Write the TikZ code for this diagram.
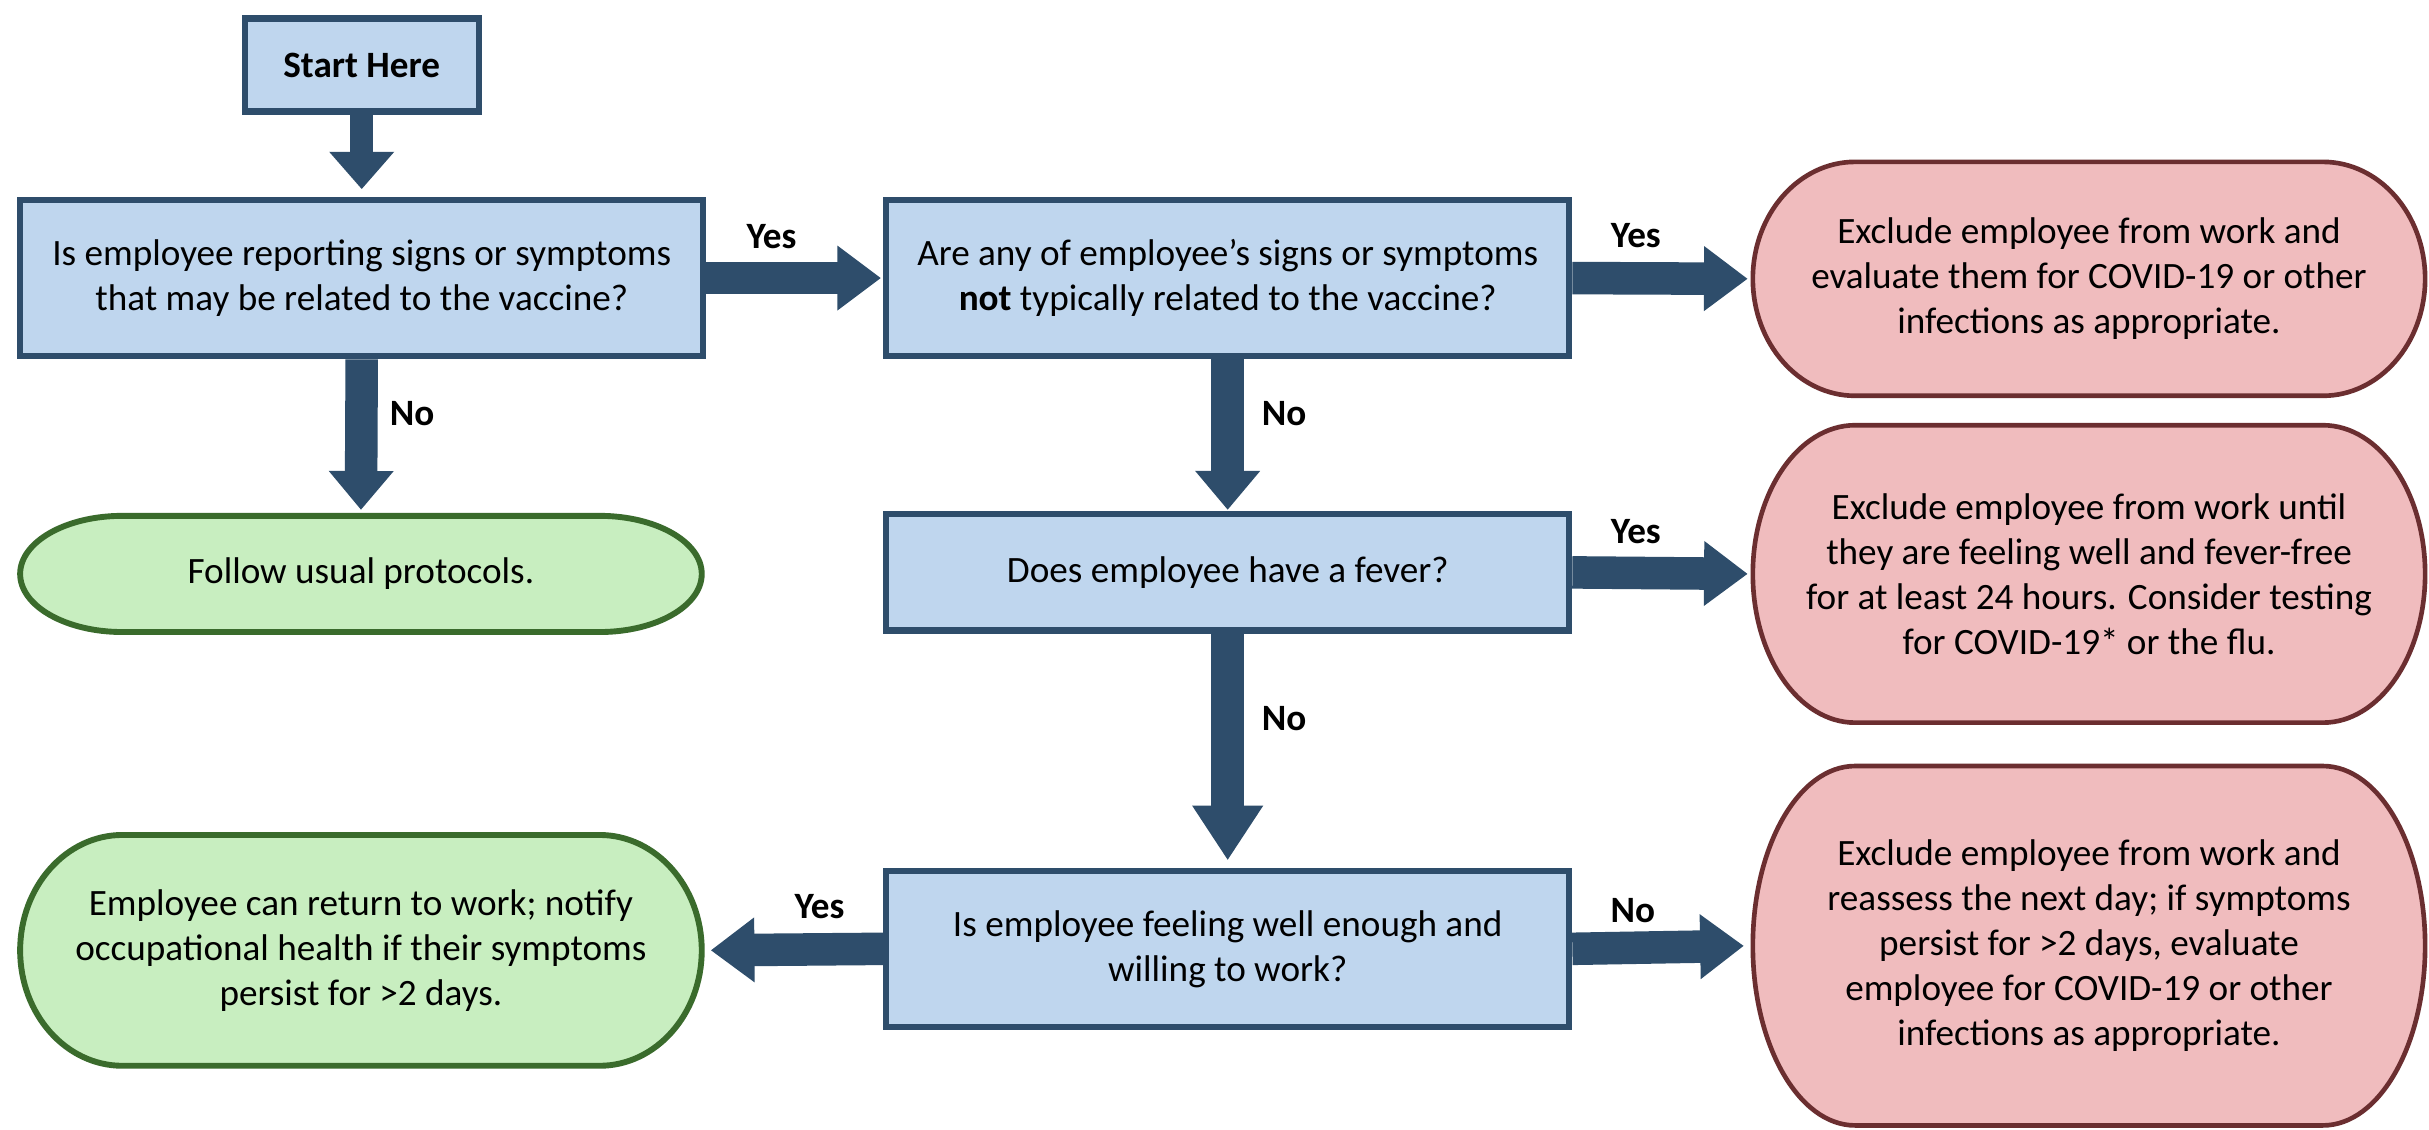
\documentclass[tikz,border=0pt]{standalone}
\usepackage{fontspec}
\setmainfont{Carlito}
\usetikzlibrary{arrows.meta,backgrounds}
\definecolor{boxfill}{HTML}{BFD6EE}
\definecolor{boxline}{HTML}{2E4D6B}
\definecolor{pinkfill}{HTML}{F0BCBE}
\definecolor{pinkline}{HTML}{6B2E30}
\definecolor{greenfill}{HTML}{C8EEC0}
\definecolor{greenline}{HTML}{3A6B2C}
\newcommand\pillshape[3]{%
  \draw[#1] ([xshift=33pt]#2.north west) -- ([xshift=-33pt]#2.north east)
    arc[start angle=90,end angle=-90,x radius=33pt,y radius=#3]
    -- ([xshift=33pt]#2.south west)
    arc[start angle=270,end angle=90,x radius=33pt,y radius=#3] -- cycle;}
\tikzset{
  txt/.style={font=\fontsize{12}{14.5}\selectfont, align=center, inner sep=0pt},
  bluebox/.style={txt, draw=boxline, fill=boxfill, line width=2pt, minimum width=220.5pt},
  pinknode/.style={txt, outer sep=0pt, minimum width=217pt},
  greennode/.style={txt, outer sep=0pt, minimum width=220pt},
  pinkpill/.style={draw=pinkline, fill=pinkfill, line width=1.5pt},
  greenpill/.style={draw=greenline, fill=greenfill, line width=1.9pt},
  lbl/.style={font=\fontsize{12}{14}\selectfont\bfseries, inner sep=0pt},
  shaft/.style={draw=boxline, line cap=rect, line width=#1, shorten <=0.5*#1},
  bigarr/.style={shaft=10.5pt,
    -{Triangle[length=14pt,width=21pt,line width=0pt]}},
  vertarr/.style={shaft=10.5pt,
    -{Triangle[length=12.5pt,width=21pt,line width=0pt]}},
  longarr/.style={shaft=10.5pt,
    -{Triangle[length=17.5pt,width=23pt,line width=0pt]}},
  startarr/.style={shaft=7.5pt,
    -{Triangle[length=12pt,width=21pt,line width=0pt]}},
}
\begin{document}
\begin{tikzpicture}[x=0.5pt,y=0.5pt]
\useasboundingbox (0,0) rectangle (1568,729);
% question boxes
\node[bluebox, minimum width=75.5pt, minimum height=30pt, font=\fontsize{12}{14.5}\selectfont\bfseries] (start) at (233.5,687) {Start Here};
\node[bluebox, minimum height=50.5pt] (q1) at (233.5,549.5) {Is employee reporting signs or symptoms\\that may be related to the vaccine?};
\node[bluebox, minimum height=50.5pt] (q2) at (792.5,549.5) {Are any of employee’s signs or symptoms\\\textbf{not} typically related to the vaccine?};
\node[bluebox, minimum height=37.5pt] (q3) at (792.5,359.5) {Does employee have a fever?};
\node[bluebox, minimum height=50.5pt] (q4) at (792.5,116.5) {Is employee feeling well enough and\\willing to work?};
% outcome nodes
\node[pinknode, minimum height=75.5pt] (r1) at (1348.5,549) {Exclude employee from work and\\evaluate them for COVID-19 or other\\infections as appropriate.};
\node[pinknode, minimum height=96pt] (r2) at (1348.5,358.5) {Exclude employee from work until\\they are feeling well and fever-free\\for at least 24 hours. Consider testing\\for COVID-19* or the flu.};
\node[pinknode, minimum height=116pt] (r3) at (1348.5,118.5) {Exclude employee from work and\\reassess the next day; if symptoms\\persist for >2 days, evaluate\\employee for COVID-19 or other\\infections as appropriate.};
\node[greennode, minimum height=37.5pt] (g1) at (233,358.5) {Follow usual protocols.};
\node[greennode, minimum height=74.5pt] (g2) at (233,115.5) {Employee can return to work; notify\\occupational health if their symptoms\\persist for >2 days.};
\begin{scope}[on background layer]
  \fill[white] (0,0) rectangle (1568,729);
  \pillshape{pinkpill}{r1}{37.75pt}
  \pillshape{pinkpill}{r2}{48pt}
  \pillshape{pinkpill}{r3}{58pt}
  \pillshape{greenpill}{g1}{18.75pt}
  \pillshape{greenpill}{g2}{37.25pt}
\end{scope}
% connectors
\draw[startarr, shorten >=2.5pt] (start.south) -- (q1.north);
\draw[bigarr, shorten >=0.75pt] (q1.east) -- (q2.west);
\draw[bigarr, shorten >=1.75pt] (q2.east) -- (r1.west);
\draw[vertarr, shorten >=2pt] (q1.south) -- (g1.north);
\draw[vertarr, shorten >=0.5pt] (q2.south) -- (q3.north);
\draw[bigarr, shorten >=1.75pt] (q3.east) -- (r2.west);
\draw[longarr, shorten >=2.5pt] (q3.south) -- (q4.north);
\draw[bigarr, shorten >=3pt] (q4.west) -- (g2.east);
\draw[bigarr, shorten >=3pt] (q4.east) -- (r3.west);
% labels
\node[lbl] (yes1) at (498,576) {Yes};
\node[lbl] (yes2) at (1056,577) {Yes};
\node[lbl] (no1) at (266,462) {No};
\node[lbl] (no2) at (829,462) {No};
\node[lbl] (yes3) at (1056,386) {Yes};
\node[lbl] (no3) at (829,265) {No};
\node[lbl] (yes4) at (529,144) {Yes};
\node[lbl] (no4) at (1054,141) {No};
\end{tikzpicture}
\end{document}
